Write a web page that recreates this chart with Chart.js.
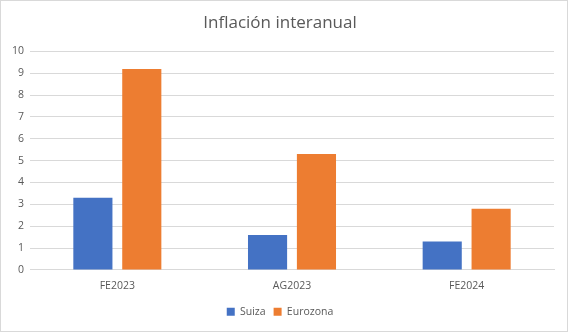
<!DOCTYPE html>
<html>
<head>
<meta charset="utf-8">
<script src="https://cdn.jsdelivr.net/npm/chart.js@4/dist/chart.umd.min.js"></script>
<style>
  html, body { margin: 0; padding: 0; background: #fff; }
  #wrap { width: 566px; height: 330px; border: 1px solid #d9d9d9; }
</style>
</head>
<body>
<div id="wrap"><canvas id="chart" width="566" height="330"></canvas></div>
<script>
// datos
const categorias = ['FE2023', 'AG2023', 'FE2024'];
const suiza = [3.3, 1.6, 1.3];
const eurozona = [9.2, 5.3, 2.8];
const yTicks = [0, 1, 2, 3, 4, 5, 6, 7, 8, 9, 10];

Chart.defaults.font.family = "'Open Sans', 'Liberation Sans', sans-serif";
Chart.defaults.color = '#595959';

const ctx = document.getElementById('chart').getContext('2d');
new Chart(ctx, {
  type: 'bar',
  data: {
    labels: categorias,
    datasets: [
      { label: 'Suiza', data: suiza, backgroundColor: '#4472c4', barPercentage: 0.8, categoryPercentage: 0.56 },
      { label: 'Eurozona', data: eurozona, backgroundColor: '#ed7d31', barPercentage: 0.8, categoryPercentage: 0.56 }
    ]
  },
  options: {
    responsive: false,
    animation: false,
    layout: { padding: { left: 5, right: 13, top: 4, bottom: 4 } },
    plugins: {
      title: {
        display: true,
        text: 'Inflación interanual',
        font: { size: 17, weight: 'normal' },
        color: '#595959',
        padding: { top: 8, bottom: 18 }
      },
      legend: {
        position: 'bottom',
        labels: { boxWidth: 8, boxHeight: 8, font: { size: 10.5 }, padding: 8 }
      },
      tooltip: { enabled: false }
    },
    scales: {
      x: {
        grid: { display: false },
        border: { color: '#d9d9d9' },
        ticks: { font: { size: 10.5 }, padding: 2 },
        afterFit: scale => { scale.height += 4; }
      },
      y: {
        min: 0,
        max: 10,
        afterBuildTicks: axis => { axis.ticks = yTicks.map(v => ({ value: v })); },
        grid: { color: '#d9d9d9', drawTicks: false },
        border: { display: false },
        ticks: { font: { size: 10.5 }, padding: 6 }
      }
    }
  }
});
</script>
</body>
</html>
